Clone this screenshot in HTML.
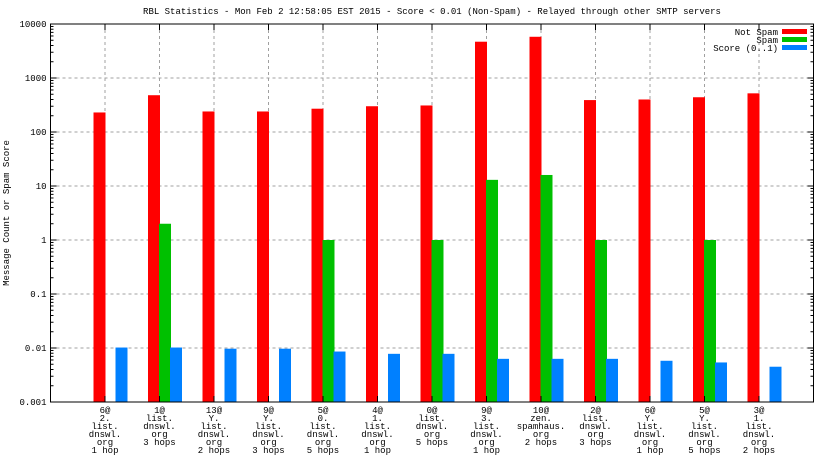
<!DOCTYPE html>
<html><head><meta charset="utf-8"><style>
body{margin:0;background:#fff}
svg{display:block}
text{font-family:"Liberation Mono","DejaVu Sans Mono",monospace;font-size:9px;fill:#000}
</style></head><body>
<svg id="chart" width="832" height="468">
<text x="432" y="14" text-anchor="middle">RBL Statistics - Mon Feb  2 12:58:05 EST 2015 - Score &lt; 0.01 (Non-Spam) - Relayed through other SMTP servers</text>
<text transform="translate(9,213) rotate(-90)" text-anchor="middle">Message Count or Spam Score</text>
<g id="grid"></g><g id="bars"></g><g id="axes"></g>
<g>
<text x="778" y="35" text-anchor="end">Not Spam</text>
<rect x="782" y="29" width="25" height="5" fill="#ff0000"/>
<text x="778" y="43" text-anchor="end">Spam</text>
<rect x="782" y="37" width="25" height="5" fill="#00c000"/>
<text x="778" y="51" text-anchor="end">Score (0..1)</text>
<rect x="782" y="45" width="25" height="5" fill="#0080ff"/>
</g>
</svg>
<script>
const categories=[["6@","2.","list.","dnswl.","org","1 hop"],["1@","list.","dnswl.","org","3 hops"],["13@","Y.","list.","dnswl.","org","2 hops"],["9@","Y.","list.","dnswl.","org","3 hops"],["5@","0.","list.","dnswl.","org","5 hops"],["4@","1.","list.","dnswl.","org","1 hop"],["0@","list.","dnswl.","org","5 hops"],["9@","3.","list.","dnswl.","org","1 hop"],["10@","zen.","spamhaus.","org","2 hops"],["2@","list.","dnswl.","org","3 hops"],["6@","Y.","list.","dnswl.","org","1 hop"],["5@","Y.","list.","dnswl.","org","5 hops"],["3@","1.","list.","dnswl.","org","2 hops"]];
const notSpam=[230,480,240,240,270,300,310,4700,5800,390,400,440,520];
const spam=[null,2,null,null,1,null,1,13,16,1,null,1,null];
const score=[0.0102,0.0102,0.0097,0.0097,0.0086,0.0078,0.0078,0.0063,0.0063,0.0063,0.0058,0.0054,0.0045];
const yTicks=[10000,1000,100,10,1,0.1,0.01,0.001];
const yTickLabels=["10000","1000","100","10","1","0.1","0.01","0.001"];

const NS="http://www.w3.org/2000/svg";
const L=50.5,R=813.5,T=24,B=402;
const step=(R-L)/(categories.length+1);
const xs=i=>L+step*(i+1);
const ys=v=>B-(Math.log10(v)-(-3))*(B-T)/7;
function mk(t,a,p){const e=document.createElementNS(NS,t);for(const k in a)e.setAttribute(k,a[k]);p.appendChild(e);return e;}
const grid=document.getElementById('grid'),bars=document.getElementById('bars'),axes=document.getElementById('axes');
yTicks.forEach((v,i)=>{
  const y=ys(v);
  if(i>0&&i<yTicks.length-1){const g=mk('line',{x1:L,x2:R,y1:y,y2:y,stroke:'#a0a0a0','stroke-dasharray':'3,3'},grid);
  
  }
  const t=mk('text',{x:L-4,y:y+3,'text-anchor':'end'},axes);t.textContent=yTickLabels[i];
  
  
  mk('line',{x1:L,x2:L+6,y1:y,y2:y,stroke:'#000'},axes);
  mk('line',{x1:R,x2:R-6,y1:y,y2:y,stroke:'#000'},axes);
  if(i>0)[2,3,4,5,6,7,8,9].forEach(m=>{const yy=ys(v*m);mk('line',{x1:L,x2:L+3,y1:yy,y2:yy,stroke:'#000'},axes);mk('line',{x1:R,x2:R-3,y1:yy,y2:yy,stroke:'#000'},axes);});
});
categories.forEach((c,i)=>{
  const x=xs(i);
  const g=mk('line',{x1:x,x2:x,y1:T,y2:B,stroke:'#a0a0a0','stroke-dasharray':'3,3'},grid);
  
  
  mk('line',{x1:x,x2:x,y1:T,y2:T+6,stroke:'#000'},axes);
  mk('line',{x1:x,x2:x,y1:B,y2:B-6,stroke:'#000'},axes);
  const t=mk('text',{'text-anchor':'middle'},axes);
  
  
  c.forEach((s,j)=>{const ts=mk('tspan',{x:x,y:413+j*8},t);ts.textContent=s;});
  const r=mk('rect',{x:x-11.5,width:12,y:ys(notSpam[i]),height:B-ys(notSpam[i]),fill:'#ff0000'},bars);
  
  
  if(spam[i]){const s=mk('rect',{x:x-0.5,width:12,y:ys(spam[i]),height:B-ys(spam[i]),fill:'#00c000'},bars);
  
  }
  const b=mk('rect',{x:x+10.5,width:12,y:ys(score[i]),height:B-ys(score[i]),fill:'#0080ff'},bars);
  
  
});
const f=mk('rect',{x:L,y:T,width:R-L,height:B-T,fill:'none',stroke:'#000','stroke-width':1},axes);


</script>
</body></html>
